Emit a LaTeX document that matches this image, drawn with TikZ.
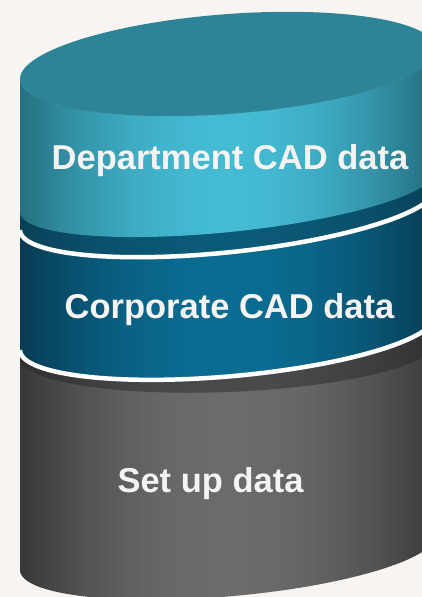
\documentclass[tikz,border=0pt]{standalone}
\usepackage{fontspec}
\setmainfont{Liberation Sans}
\definecolor{bg}{HTML}{F7F4F1}
\definecolor{topc}{HTML}{2E8497}
\definecolor{ltL}{HTML}{246E7E}
\definecolor{ltM}{HTML}{44BAD3}
\definecolor{ltR}{HTML}{22697A}
\definecolor{dkL}{HTML}{093F57}
\definecolor{dkM}{HTML}{0B5A78}
\definecolor{dkR}{HTML}{083F58}
\definecolor{cpL}{HTML}{073A52}
\definecolor{cpM}{HTML}{0A6C92}
\definecolor{cpR}{HTML}{063950}
\definecolor{gyL}{HTML}{363636}
\definecolor{gyM}{HTML}{6B6B6B}
\definecolor{gyR}{HTML}{383838}
\definecolor{dgL}{HTML}{2E2E2E}
\definecolor{dgM}{HTML}{4A4A4A}
\definecolor{dgR}{HTML}{303030}
\definecolor{txt}{HTML}{F6F4F2}
% cylinder axis x = 228, radius 208; screen y grows downward, TikZ y = -screen y
\newcommand\lowarc[3]{plot[domain=180:360,samples=90] ({228+208*cos(\x)},{-(#1-#2*sin(\x)-#3*cos(\x))})}
\newcommand\backarc[3]{-- plot[domain=0:180,samples=90] ({228+208*cos(\x)},{-(#1+#2*sin(\x)-#3*cos(\x))})}
% horizontal gradient made of thin vertical strips (left, middle, right colour)
\newcommand\hgrad[3]{%
  \foreach \i in {0,...,142}{%
    \pgfmathsetmacro\xa{18+3*\i}%
    \pgfmathtruncatemacro\pp{min(100,100*pow(abs(\xa+1.5-228)/208,2))}%
    \ifdim\xa pt<228pt\def\cc{#1}\else\def\cc{#3}\fi
    \fill[fill=\cc!\pp!#2] (\xa,-600) rectangle ++(3.4,600);
  }}
\tikzset{
  wline/.style={draw=white, line width=4.5pt},
  lbl/.style={font=\fontsize{34.5}{40}\selectfont\bfseries, text=txt, inner sep=0pt, anchor=base}
}
\begin{document}
\begin{tikzpicture}[x=1pt,y=1pt]
\useasboundingbox (0,-597) rectangle (422,0);
\fill[bg] (0,-597) rectangle (422,0);
\clip (0,-597) rectangle (422,0);
% set up data disc
\begin{scope}
  \clip \lowarc{552.5}{44}{17.5} \backarc{332.5}{44}{17.5} -- cycle;
  \hgrad{gyL}{gyM}{gyR}
\end{scope}
\begin{scope}
  \clip \lowarc{350}{42}{8} \backarc{332.5}{44}{17.5} -- cycle;
  \hgrad{dgL}{dgM}{dgR}
\end{scope}
% corporate disc
\begin{scope}
  \clip \lowarc{332.5}{44}{17.5} \backarc{209}{43.4}{21} -- cycle;
  \hgrad{cpL}{cpM}{cpR}
\end{scope}
% department disc
\begin{scope}
  \clip \lowarc{209}{43.4}{21} \backarc{64}{50}{15} -- cycle;
  \hgrad{dkL}{dkM}{dkR}
\end{scope}
\begin{scope}
  \clip \lowarc{191.5}{40.7}{20.5} \backarc{64}{50}{15} -- cycle;
  \hgrad{ltL}{ltM}{ltR}
\end{scope}
% top face
\fill[topc] plot[domain=0:360,samples=160] ({228+208*cos(\x)},{-(64-50*sin(\x)-15*cos(\x))}) -- cycle;
% white separators
\draw[wline] \lowarc{209}{43.4}{21};
\draw[wline] \lowarc{332.5}{44}{17.5};
% labels
\node[lbl] (dept) at (230,-169) {Department CAD data};
\node[lbl] (corp) at (229.5,-318) {Corporate CAD data};
\node[lbl] (setup) at (210.5,-492) {Set up data};
\end{tikzpicture}
\end{document}
